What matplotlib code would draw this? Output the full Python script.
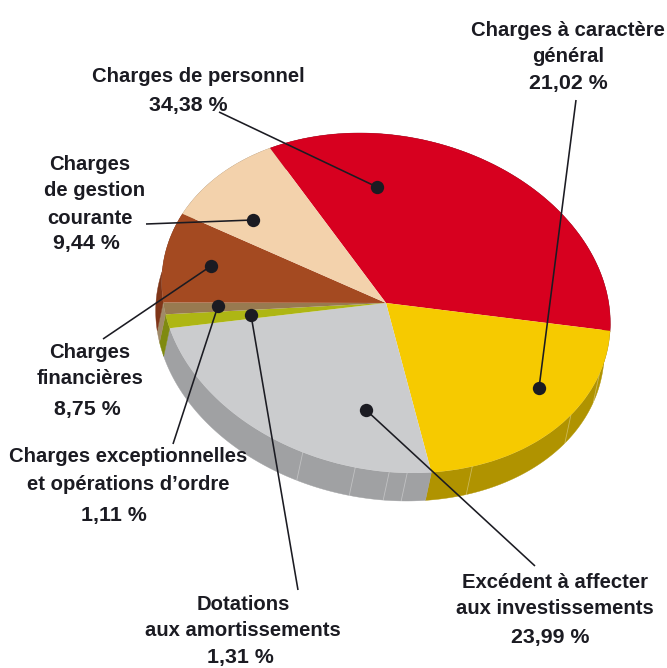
#! /usr/bin/python3
import numpy as np
import matplotlib
matplotlib.use('Agg')
import matplotlib.pyplot as plt
from matplotlib.patches import Polygon
from matplotlib.transforms import Affine2D

# Slices in drawing order, clockwise from the red one
names = ['Charges de personnel', 'Charges à caractère général',
         'Excédent à affecter aux investissements', 'Dotations aux amortissements',
         'Charges exceptionnelles et opérations d’ordre', 'Charges financières',
         'Charges de gestion courante']
shares = [34.38, 21.02, 23.99, 1.31, 1.11, 8.75, 9.44]
top_colors = ['#d7001f', '#f6ca00', '#cbccce', '#aeb614', '#987a50', '#a44a21', '#f3d2ac']
side_colors = ['#8f0015', '#b09300', '#a0a1a3', '#7f8a10', '#a08a68', '#7f3518', '#b89c7c']

# Label lines, the percentage is added as one more line
label_lines = [
    ['Charges de personnel'],
    ['Charges à caractère', 'général'],
    ['Excédent à affecter', 'aux investissements'],
    ['Dotations', 'aux amortissements'],
    ['Charges exceptionnelles', 'et opérations d’ordre'],
    ['Charges', 'financières'],
    ['Charges', 'de gestion', 'courante'],
]

# Layout, in pixels of the 667x668 picture
label_pos = [
    [(198, 77), (188, 105)],
    [(568, 30), (568, 57), (568, 83)],
    [(555, 583), (555, 609), (550, 638)],
    [(243, 604), (243, 630), (240, 658)],
    [(128, 457), (128, 484), (114, 515)],
    [(90, 352), (90, 379), (87, 409)],
    [(90, 165), (95, 191), (90, 218), (86, 243)],
]
dots = [(377, 187), (539, 388), (366, 410), (251, 315), (218, 306), (211, 266), (253, 220)]
leader_ends = [(219, 112), (576, 100), (535, 566), (298, 590), (173, 444), (103, 339), (146, 224)]
seam_angles = [-9.5, -26, -58.9, -76.1, -80.7, -89.4, -103.3]

center = (386, 303)
radii = (226.3, 167.3)
tilt = 11.4
depth = (-6, 28)
ink = '#1b1b22'

fig = plt.figure(figsize=(6.67, 6.68), dpi=100)
ax = fig.add_axes([0, 0, 1, 1])

wedges, _ = ax.pie(shares, colors=top_colors, startangle=129.6, counterclock=False,
                   radius=1, wedgeprops={'linewidth': 0})
ax.set_aspect('auto')
ax.set_xlim(0, 667)
ax.set_ylim(668, 0)
ax.axis('off')

# The pie is a tilted ellipse seen from above, y runs downward here
disc = (Affine2D().scale(radii[0], -radii[1]).rotate_deg(tilt)
        .translate(center[0], center[1]))


def rim(angles):
    a = np.radians(angles)
    return disc.transform(np.column_stack([np.cos(a), np.sin(a)]))


for wedge, color in zip(wedges, side_colors):
    wedge.set_transform(disc + ax.transData)
    wedge.set_zorder(3)
    edge = rim(np.linspace(wedge.theta1, wedge.theta2, 120))
    side = np.vstack([edge, (edge + depth)[::-1]])
    ax.add_patch(Polygon(side, closed=True, facecolor=color, edgecolor=color,
                         linewidth=0.3, zorder=2))

for angle in seam_angles:
    p = rim([angle])[0]
    q = p + depth
    ax.plot([p[0], q[0]], [p[1], q[1]], color='white', alpha=0.35, lw=0.6, zorder=2.5)

for dot, end in zip(dots, leader_ends):
    ax.plot([dot[0], end[0]], [dot[1], end[1]], color=ink, lw=1.15, zorder=4,
            solid_capstyle='butt')
    ax.plot(dot[0], dot[1], 'o', color=ink, markersize=9.6, markeredgewidth=0, zorder=5)

for lines, share, positions in zip(label_lines, shares, label_pos):
    percent = '{:.2f} %'.format(share).replace('.', ',')
    for text, (x, y) in zip(lines + [percent], positions):
        size = 15.4 if text == percent else 14.6
        ax.text(x, y, text, ha='center', va='center', color=ink, fontsize=size,
                fontweight='bold', family='Liberation Sans', zorder=6)

fig.savefig('out.png', dpi=100)
